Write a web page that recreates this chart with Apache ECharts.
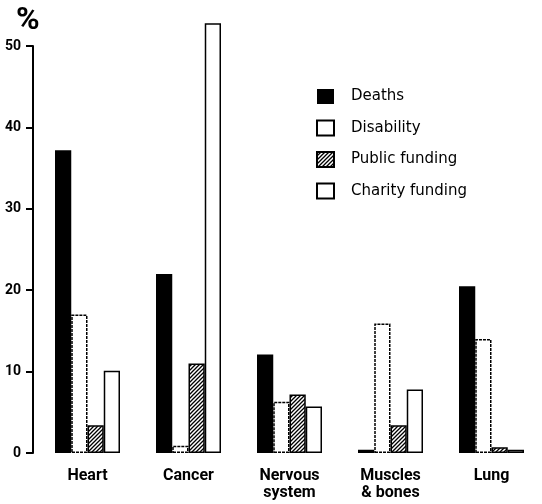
<!DOCTYPE html>
<html>
<head>
<meta charset="utf-8">
<script src="https://cdn.jsdelivr.net/npm/echarts@6/dist/echarts.min.js"></script>
<style>
html,body{margin:0;padding:0;background:#fff;}
#chart{width:542px;height:504px;}
</style>
</head>
<body>
<div id="chart"></div>
<script>
// ---- data ----
var categories = ['Heart', 'Cancer', 'Nervous\nsystem', 'Muscles\n& bones', 'Lung'];
var seriesNames = ['Deaths', 'Disability', 'Public funding', 'Charity funding'];
var deaths = [37.2, 22.0, 12.1, 0.4, 20.5];
var disability = [17.0, 0.9, 6.3, 15.9, 14.0];
var publicFunding = [3.4, 11.0, 7.2, 3.4, 0.7];
var charityFunding = [10.1, 52.8, 5.7, 7.8, 0.4];
var yTicks = [0, 10, 20, 30, 40, 50];

// hatch pattern
function hatch() {
  var c = document.createElement('canvas');
  c.width = 4; c.height = 4;
  var g = c.getContext('2d');
  g.fillStyle = '#fff'; g.fillRect(0, 0, 4, 4);
  g.strokeStyle = '#000'; g.lineWidth = 1.3;
  g.beginPath();
  g.moveTo(-1, 5); g.lineTo(5, -1);
  g.moveTo(-1, 1); g.lineTo(1, -1);
  g.moveTo(3, 5); g.lineTo(5, 3);
  g.stroke();
  return c;
}

var chart = echarts.init(document.getElementById('chart'));
var bw = 16.25;
chart.setOption({
  animation: false,
  backgroundColor: '#fff',
  title: {
    text: '%', left: 11, top: 0,
    textStyle: {fontFamily: 'Roboto', fontWeight: 'bold', fontSize: 32, color: '#000'}
  },
  legend: {
    orient: 'vertical', left: 311, top: 83,
    itemWidth: 17, itemHeight: 15, itemGap: 14.5,
    icon: 'rect',
    textStyle: {fontFamily: 'DejaVu Sans', fontSize: 15, color: '#000', lineHeight: 17, padding: [0, 0, 0, 12]},
    data: seriesNames
  },
  grid: {left: 37, top: 46, width: 525, height: 407, containLabel: false},
  xAxis: {
    type: 'category', data: categories,
    axisLine: {show: false}, axisTick: {show: false},
    axisLabel: {margin: 14, color: '#000', fontFamily: 'Roboto', fontWeight: 'bold', fontSize: 16, lineHeight: 17, interval: 0}
  },
  yAxis: {
    type: 'value', min: yTicks[0], max: yTicks[yTicks.length - 1], interval: 10, offset: 4,
    axisLine: {show: true, lineStyle: {color: '#000', width: 2}},
    axisTick: {show: true, length: 7, lineStyle: {color: '#000', width: 2}},
    splitLine: {show: false},
    axisLabel: {margin: 12, color: '#000', fontFamily: 'Roboto', fontWeight: 'bold', fontSize: 14}
  },
  series: [
    {name: seriesNames[0], type: 'bar', data: deaths, barWidth: bw, barGap: '0%', clip: false,
     itemStyle: {color: '#000'}},
    {name: seriesNames[1], type: 'bar', data: disability, barWidth: bw, barGap: '0%', clip: false,
     itemStyle: {color: '#fff', borderColor: '#000', borderWidth: 1.5, borderType: [3, 1]}},
    {name: seriesNames[2], type: 'bar', data: publicFunding, barWidth: bw, barGap: '0%', clip: false,
     itemStyle: {color: {image: hatch(), repeat: 'repeat'}, borderColor: '#000', borderWidth: 1.5}},
    {name: seriesNames[3], type: 'bar', data: charityFunding, barWidth: bw, barGap: '0%', clip: false,
     itemStyle: {color: '#fff', borderColor: '#000', borderWidth: 1.5}}
  ]
});
</script>
</body>
</html>
